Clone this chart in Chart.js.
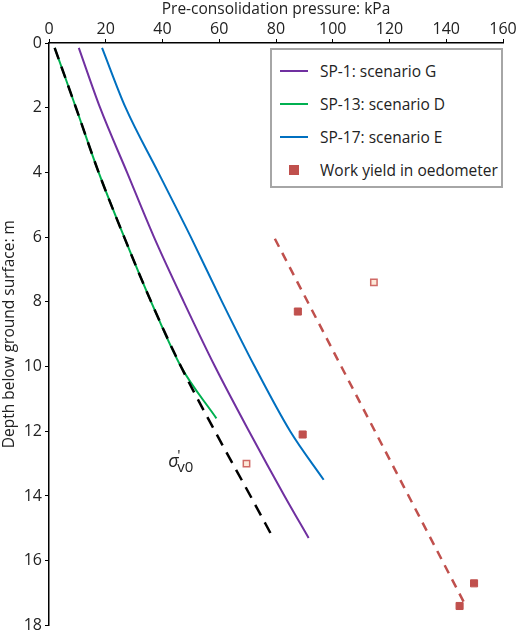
<!DOCTYPE html>
<html>
<head>
<meta charset="utf-8">
<script src="https://cdn.jsdelivr.net/npm/chart.js@4"></script>
<style>
  body { margin: 0; background: #fff; font-family: "Open Sans", sans-serif; }
  #wrap { position: relative; width: 520px; height: 638px; }
  #legend { position: absolute; left: 270px; top: 48px; width: 229px; height: 136px;
    border: 2px solid #a6a6a6; background: #fff; font-size: 15.5px; color: #222; }
  .row { position: absolute; left: 8px; display: flex; align-items: center; }
  .ln { width: 28px; height: 2px; margin-right: 12px; }
  .sq { width: 10px; height: 10px; margin: 0 21px 0 9px; background: #c0504d; }
</style>
</head>
<body>
<div id="wrap">
  <canvas id="chart" width="520" height="638"></canvas>
  <div id="legend">
    <div class="row" style="top:10px"><div class="ln" style="background:#7030a0"></div>SP-1: scenario G</div>
    <div class="row" style="top:43px"><div class="ln" style="background:#00b050"></div>SP-13: scenario D</div>
    <div class="row" style="top:76px"><div class="ln" style="background:#0070c0"></div>SP-17: scenario E</div>
    <div class="row" style="top:109px"><div class="sq"></div>Work yield in oedometer</div>
  </div>
</div>
<script>
// depth (m) and pressure (kPa)
const sigmaDepth = [0.15, 2, 4, 6, 8, 10, 12, 14, 15.3];
const sigmaP = [2, 9.5, 17.5, 26.5, 36, 46.5, 58.5, 71, 79];
const sp13Depth = [0.15, 2, 4, 6, 8, 10, 11.6];
const sp13P = [2, 9.5, 17.5, 26.5, 36, 46.5, 59];
const sp1Depth = [0.15, 2, 4, 6, 8, 10, 12, 14, 15.3];
const sp1P = [10.5, 18, 27.5, 37, 47.5, 58.5, 70.5, 83, 91.5];
const sp17Depth = [0.15, 2, 4, 6, 8, 10, 12, 13.5];
const sp17P = [18.7, 27, 38.5, 50, 61, 72.5, 85, 96.8];
const trendDepth = [6.05, 17.45];
const trendP = [79.6, 147.2];
const yieldDepth = [8.3, 12.1, 16.7, 17.4];
const yieldP = [87.7, 89.4, 149.8, 144.7];
const openDepth = [7.4, 13.0];
const openP = [114.5, 69.6];
const xTicks = [0, 20, 40, 60, 80, 100, 120, 140, 160];

const pts = (xs, ys) => xs.map((x, i) => ({ x: x, y: ys[i] }));

const labelPlugin = {
  id: "sigmaLabel",
  afterDatasetsDraw(chart) {
    const c = chart.ctx, sx = chart.scales.x, sy = chart.scales.y;
    const x = sx.getPixelForValue(42), y = sy.getPixelForValue(13.1);
    c.save();
    c.fillStyle = "#222";
    c.font = "italic 18px 'Open Sans'";
    c.fillText("σ", x, y);
    c.font = "15px 'Open Sans'";
    c.fillText("'", x + 9, y - 7);
    c.fillText("v0", x + 9, y + 5);
    c.restore();
  }
};

const line = { showLine: true, pointRadius: 0, cubicInterpolationMode: "monotone" };

new Chart(document.getElementById("chart"), {
  type: "scatter",
  data: {
    datasets: [
      { ...line, data: pts(sigmaP, sigmaDepth), borderColor: "#000", borderWidth: 2.5, borderDash: [12, 8] },
      { ...line, data: pts(sp13P, sp13Depth), borderColor: "#00b050", borderWidth: 2 },
      { ...line, data: pts(sp1P, sp1Depth), borderColor: "#7030a0", borderWidth: 2 },
      { ...line, data: pts(sp17P, sp17Depth), borderColor: "#0070c0", borderWidth: 2 },
      { ...line, data: pts(trendP, trendDepth), borderColor: "#c0504d", borderWidth: 2.5, borderDash: [9, 7] },
      { data: pts(yieldP, yieldDepth), pointStyle: "rect", pointRadius: 5, backgroundColor: "#c0504d", borderColor: "#c0504d" },
      { data: pts(openP, openDepth), pointStyle: "rect", pointRadius: 4.5, backgroundColor: "#fde9d9", borderColor: "#d06a66", borderWidth: 1.5 }
    ]
  },
  options: {
    responsive: false,
    animation: false,
    layout: { padding: { right: 17, bottom: 10 } },
    plugins: { legend: { display: false }, tooltip: { enabled: false } },
    scales: {
      x: {
        position: "top", min: 0, max: 160,
        afterBuildTicks: s => { s.ticks = xTicks.map(v => ({ value: v })); },
        afterFit: s => { s.height = 43; },
        title: { display: true, text: "Pre-consolidation pressure: kPa", color: "#222", font: { size: 15.5, family: "Open Sans" }, padding: { top: 0, bottom: 0 } },
        ticks: { color: "#222", font: { size: 16, family: "Open Sans" }, padding: 0 },
        grid: { drawOnChartArea: false, color: "#000", tickLength: 4 },
        border: { color: "#000", width: 1.5 }
      },
      y: {
        reverse: true, min: 0, max: 18,
        afterFit: s => { s.width = 49; },
        title: { display: true, text: "Depth below ground surface: m", color: "#222", font: { size: 15.5, family: "Open Sans" }, padding: 0 },
        ticks: { stepSize: 2, color: "#222", font: { size: 16, family: "Open Sans" }, padding: 3 },
        grid: { drawOnChartArea: false, color: "#000", tickLength: 4 },
        border: { color: "#000", width: 1.5 }
      }
    }
  },
  plugins: [labelPlugin]
});
</script>
</body>
</html>
